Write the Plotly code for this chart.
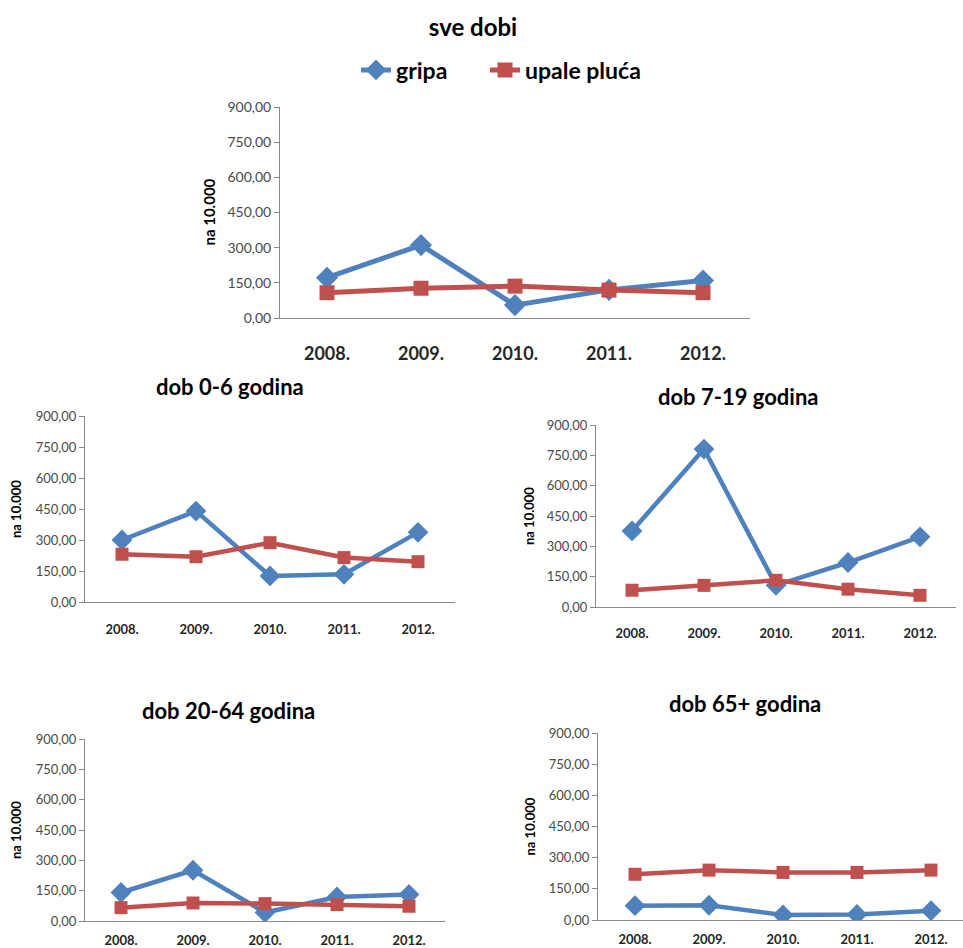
import plotly.graph_objects as go

years = ["2008.", "2009.", "2010.", "2011.", "2012."]
series_names = ["gripa", "upale pluća"]

panel_titles = ["sve dobi", "dob 0-6 godina", "dob 7-19 godina", "dob 20-64 godina", "dob 65+ godina"]

gripa_sve = [172, 311, 55, 120, 160]
upale_sve = [108, 127, 136, 119, 108]

gripa_0_6 = [300, 440, 126, 134, 337]
upale_0_6 = [231, 219, 287, 215, 195]

gripa_7_19 = [376, 781, 107, 220, 347]
upale_7_19 = [83, 107, 132, 88, 58]

gripa_20_64 = [141, 251, 42, 119, 131]
upale_20_64 = [66, 89, 86, 81, 73]

gripa_65 = [69, 71, 24, 27, 45]
upale_65 = [220, 240, 229, 229, 240]

y_tick_vals = [0, 150, 300, 450, 600, 750, 900]
y_tick_text = ["0,00", "150,00", "300,00", "450,00", "600,00", "750,00", "900,00"]
y_title = "na 10.000"

W, H = 963, 948
BLUE = "#4F81BD"
RED = "#C0504D"
FONT = "Lato"

# panel geometry in pixels
panels = [
    dict(g=gripa_sve, u=upale_sve, xl=280, xr=750, y0=318, y9=107, xend=4.5,
         ytf=14, xtf=18, ttf=15, dm=17, sq=15, lw=5, lab=31, ytx=208),
    dict(g=gripa_0_6, u=upale_0_6, xl=85, xr=455, y0=602, y9=416, xend=4.5,
         ytf=13, xtf=13, ttf=13, dm=16, sq=13, lw=4.5, lab=24, ytx=16),
    dict(g=gripa_7_19, u=upale_7_19, xl=596, xr=956, y0=607, y9=425, xend=4.5,
         ytf=13, xtf=13, ttf=13, dm=16, sq=13, lw=4.5, lab=23, ytx=529),
    dict(g=gripa_20_64, u=upale_20_64, xl=85, xr=445, y0=921, y9=739, xend=4.5,
         ytf=13, xtf=13, ttf=13, dm=16, sq=13, lw=4.5, lab=16, ytx=16),
    dict(g=gripa_65, u=upale_65, xl=598, xr=963, y0=920, y9=733, xend=-0.5 + 365 / 74,
         ytf=13, xtf=13, ttf=13, dm=16, sq=13, lw=4.5, lab=16, ytx=529),
]

title_pos = [None, (230, 387), (738, 397), (228, 710), (745, 703)]

fig = go.Figure()
layout = dict(
    width=W, height=H,
    margin=dict(l=0, r=0, t=0, b=0, autoexpand=False),
    paper_bgcolor="white", plot_bgcolor="white",
    font=dict(family=FONT, color="#404040"),
    showlegend=True,
    annotations=[],
)

for i, p in enumerate(panels):
    n = "" if i == 0 else str(i + 1)
    xa, ya = "x" + n, "y" + n
    fig.add_trace(go.Scatter(
        x=years, y=p["g"], name=series_names[0], mode="lines+markers",
        line=dict(color=BLUE, width=p["lw"]),
        marker=dict(symbol="diamond", size=p["dm"], color=BLUE),
        xaxis=xa, yaxis=ya, showlegend=(i == 0), legend="legend",
    ))
    fig.add_trace(go.Scatter(
        x=years, y=p["u"], name=series_names[1], mode="lines+markers",
        line=dict(color=RED, width=p["lw"]),
        marker=dict(symbol="square", size=p["sq"], color=RED),
        xaxis=xa, yaxis=ya, showlegend=(i == 0), legend="legend2",
    ))
    layout["xaxis" + n] = dict(
        domain=[p["xl"] / W, min(p["xr"] / W, 1.0)],
        anchor=ya, type="category", range=[-0.5, p["xend"]],
        showline=True, linecolor="#898989", linewidth=1,
        showgrid=False, zeroline=False, ticks="",
        ticklabelstandoff=p["lab"] - p["xtf"] // 2 - 3,
        tickfont=dict(family=FONT, size=p["xtf"], color="#262626", weight="bold"),
        automargin=False, fixedrange=True,
    )
    layout["yaxis" + n] = dict(
        domain=[1 - p["y0"] / H, 1 - p["y9"] / H],
        anchor=xa, range=[0, 900],
        tickvals=y_tick_vals, ticktext=y_tick_text,
        showline=True, linecolor="#898989", linewidth=1,
        ticks="outside", ticklen=5, tickcolor="#898989",
        showgrid=False, zeroline=False,
        tickfont=dict(family=FONT, size=p["ytf"], color="#4a4a4a"),
        automargin=False, fixedrange=True,
    )
    yc = (p["y0"] + p["y9"]) / 2
    layout["annotations"].append(dict(
        text=y_title, x=p["ytx"] / W, y=1 - yc / H, xref="paper", yref="paper",
        textangle=-90, showarrow=False, xanchor="center", yanchor="middle",
        font=dict(family=FONT, size=p["ttf"], color="#000000", weight="bold"),
    ))
    if i > 0:
        tx, ty = title_pos[i]
        layout["annotations"].append(dict(
            text=panel_titles[i], x=tx / W, y=1 - ty / H, xref="paper", yref="paper",
            showarrow=False, xanchor="center", yanchor="middle",
            font=dict(family=FONT, size=22, color="#000000", weight="bold"),
        ))

layout["title"] = dict(
    text=panel_titles[0], x=473 / W, y=1 - 28 / H, xanchor="center", yanchor="middle",
    font=dict(family=FONT, size=24, color="#000000", weight="bold"),
)
legend_style = dict(
    orientation="h", y=1 - 70 / H, xanchor="left", yanchor="middle",
    font=dict(family=FONT, size=23, color="#000000", weight="bold"),
    itemwidth=30, bgcolor="rgba(0,0,0,0)",
)
layout["legend"] = dict(x=356 / W, **legend_style)
layout["legend2"] = dict(x=485 / W, **legend_style)

fig.update_layout(**layout)
fig.write_html(
    "out.html",
    config={"displayModeBar": False},
    post_script="document.body.style.margin='0';document.body.style.overflow='hidden';",
)
